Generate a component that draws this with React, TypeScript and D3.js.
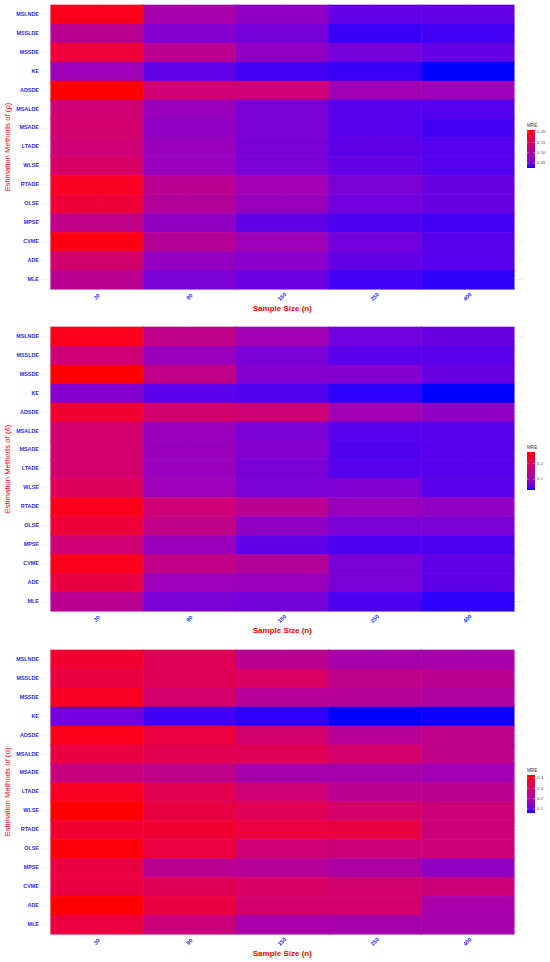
import * as d3 from 'd3';

const methods = ['MSLNDE', 'MSSLDE', 'MSSDE', 'KE', 'ADSDE', 'MSALDE', 'MSADE', 'LTADE', 'WLSE', 'RTADE', 'OLSE', 'MPSE', 'CVME', 'ADE', 'MLE'];
const sampleSizes = ['30', '90', '150', '250', '400'];

// MRE per method (rows) and sample size (columns)
const mreRho = [
  [0.201, 0.09, 0.072, 0.046, 0.046],
  [0.109, 0.063, 0.054, 0.032, 0.035],
  [0.182, 0.109, 0.072, 0.054, 0.046],
  [0.081, 0.044, 0.035, 0.032, 0.026],
  [0.21, 0.136, 0.133, 0.085, 0.081],
  [0.136, 0.078, 0.057, 0.041, 0.039],
  [0.14, 0.072, 0.057, 0.041, 0.035],
  [0.133, 0.078, 0.057, 0.043, 0.039],
  [0.146, 0.078, 0.057, 0.046, 0.039],
  [0.197, 0.109, 0.085, 0.057, 0.048],
  [0.182, 0.103, 0.078, 0.052, 0.048],
  [0.118, 0.072, 0.044, 0.037, 0.035],
  [0.204, 0.105, 0.081, 0.052, 0.041],
  [0.14, 0.074, 0.066, 0.046, 0.041],
  [0.109, 0.057, 0.05, 0.035, 0.03],
];

const mreDelta = [
  [0.263, 0.153, 0.109, 0.065, 0.06],
  [0.173, 0.099, 0.072, 0.053, 0.053],
  [0.275, 0.153, 0.08, 0.08, 0.06],
  [0.08, 0.053, 0.048, 0.036, 0.031],
  [0.243, 0.182, 0.173, 0.109, 0.092],
  [0.182, 0.099, 0.072, 0.051, 0.051],
  [0.182, 0.099, 0.08, 0.048, 0.051],
  [0.182, 0.099, 0.072, 0.051, 0.051],
  [0.202, 0.104, 0.072, 0.075, 0.053],
  [0.263, 0.173, 0.141, 0.099, 0.092],
  [0.238, 0.153, 0.092, 0.072, 0.072],
  [0.177, 0.099, 0.055, 0.046, 0.046],
  [0.263, 0.153, 0.133, 0.072, 0.055],
  [0.226, 0.104, 0.099, 0.072, 0.055],
  [0.141, 0.072, 0.068, 0.046, 0.036],
];

const mreAlpha = [
  [0.382, 0.326, 0.227, 0.19, 0.19],
  [0.356, 0.326, 0.308, 0.245, 0.227],
  [0.404, 0.289, 0.219, 0.219, 0.208],
  [0.112, 0.075, 0.067, 0.06, 0.061],
  [0.412, 0.363, 0.289, 0.219, 0.245],
  [0.356, 0.334, 0.326, 0.293, 0.245],
  [0.264, 0.245, 0.19, 0.19, 0.178],
  [0.404, 0.334, 0.275, 0.227, 0.227],
  [0.43, 0.356, 0.326, 0.297, 0.271],
  [0.382, 0.382, 0.363, 0.356, 0.271],
  [0.423, 0.363, 0.275, 0.271, 0.267],
  [0.356, 0.227, 0.219, 0.201, 0.153],
  [0.356, 0.326, 0.304, 0.289, 0.267],
  [0.43, 0.356, 0.289, 0.289, 0.193],
  [0.363, 0.267, 0.193, 0.19, 0.19],
];

const ticksRho = [0.05, 0.1, 0.15, 0.2];
const ticksDelta = [0.1, 0.2];
const ticksAlpha = [0.1, 0.2, 0.3, 0.4];

const FONT = '"Liberation Sans", Arial, sans-serif';
const LEFT = 50.7;
const RIGHT = 514;
const PLOT_H = 284;

interface HeatmapProps {
  id: string;
  top: number;
  values: number[][];
  symbol: string;
  legendTicks: number[];
  tickDigits: number;
}

function Heatmap({ id, top, values, symbol, legendTicks, tickDigits }: HeatmapProps) {
  const x = d3.scaleBand().domain(sampleSizes).range([LEFT, RIGHT]);
  const y = d3.scaleBand().domain(methods).range([top, top + PLOT_H]);
  const flat = values.flat();
  const [lo, hi] = d3.extent(flat) as [number, number];
  const color = d3.scaleLinear<string>().domain([lo, hi]).range(['blue', 'red']).interpolate(d3.interpolateLab);

  const padX = x.bandwidth() * 0.1;
  const padY = y.bandwidth() * 0.1;
  const bottom = top + PLOT_H;
  const midY = top + PLOT_H / 2;

  const barTop = midY + 2 - 19;
  const barH = 38;
  const barX = 527;
  const barW = 8;
  const ly = d3.scaleLinear().domain([lo, hi]).range([barTop + barH, barTop]);
  const stops = d3.range(0, 1.0001, 0.05);

  const cells = methods.flatMap((m, i) => sampleSizes.map((s, j) => ({ m, s, v: values[i][j] })));

  return (
    <g>
      <defs>
        <linearGradient id={`grad-${id}`} x1="0" y1="1" x2="0" y2="0">
          {stops.map((s) => (
            <stop key={s} offset={s} stopColor={color(lo + s * (hi - lo))} />
          ))}
        </linearGradient>
      </defs>
      {/* grid lines */}
      {methods.map((m) => (
        <line
          key={m}
          x1={LEFT - padX}
          x2={RIGHT + padX}
          y1={y(m)! + y.bandwidth() / 2}
          y2={y(m)! + y.bandwidth() / 2}
          stroke="#ebebeb"
          strokeWidth={0.6}
        />
      ))}
      {sampleSizes.map((s) => (
        <line
          key={s}
          x1={x(s)! + x.bandwidth() / 2}
          x2={x(s)! + x.bandwidth() / 2}
          y1={top - padY}
          y2={bottom + padY}
          stroke="#ebebeb"
          strokeWidth={0.6}
        />
      ))}
      {/* soft halo round the tiles, covered inside by the tiles */}
      {cells.map((c) => (
        <rect
          key={`h-${c.m}-${c.s}`}
          x={x(c.s)! - 0.8}
          y={y(c.m)! - 0.8}
          width={x.bandwidth() + 1.6}
          height={y.bandwidth() + 1.6}
          fill={color(c.v)}
          fillOpacity={0.4}
        />
      ))}
      {cells.map((c) => (
        <rect
          key={`${c.m}-${c.s}`}
          x={x(c.s)!}
          y={y(c.m)!}
          width={x.bandwidth() + 0.3}
          height={y.bandwidth() + 0.3}
          fill={color(c.v)}
        />
      ))}
      {/* y labels */}
      {methods.map((m) => (
        <text
          key={m}
          x={LEFT - padX - 2.5}
          y={y(m)! + y.bandwidth() / 2}
          textAnchor="end"
          dominantBaseline="middle"
          fontFamily={FONT}
          fontWeight="bold"
          fontSize={5.4}
          fill="#2b2bff"
        >
          {m}
        </text>
      ))}
      {/* x labels */}
      {sampleSizes.map((s) => {
        const cx = x(s)! + x.bandwidth() / 2;
        const cy = bottom + 8;
        return (
          <text
            key={s}
            transform={`translate(${cx},${cy}) rotate(-45)`}
            textAnchor="middle"
            dominantBaseline="middle"
            fontFamily={FONT}
            fontWeight="bold"
            fontSize={5.6}
            fill="#2b2bff"
          >
            {s}
          </text>
        );
      })}
      <text
        x={(LEFT + RIGHT) / 2}
        y={bottom + 22}
        textAnchor="middle"
        fontFamily={FONT}
        fontWeight="bold"
        fontSize={8}
        fill="red"
      >
        Sample Size (n)
      </text>
      <text
        transform={`translate(10,${midY}) rotate(-90)`}
        textAnchor="middle"
        fontFamily={FONT}
        fontSize={7.8}
        fill="red"
      >
        {`Estimation Methods of (${symbol})`}
      </text>
      {/* legend */}
      <text x={barX} y={barTop - 3} fontFamily={FONT} fontSize={4.6} fill="#333">
        MRE
      </text>
      <rect x={barX} y={barTop} width={barW} height={barH} fill={`url(#grad-${id})`} />
      {legendTicks.map((t) => (
        <g key={t}>
          <line x1={barX} x2={barX + 1.6} y1={ly(t)} y2={ly(t)} stroke="white" strokeWidth={0.5} />
          <line x1={barX + barW - 1.6} x2={barX + barW} y1={ly(t)} y2={ly(t)} stroke="white" strokeWidth={0.5} />
          <text
            x={barX + barW + 2}
            y={ly(t)}
            dominantBaseline="middle"
            fontFamily={FONT}
            fontSize={4.4}
            fill="#4d4d4d"
          >
            {t.toFixed(tickDigits)}
          </text>
        </g>
      ))}
    </g>
  );
}

export default function App() {
  return (
    <svg
      width={550}
      height={962}
      style={{ position: 'absolute', left: 0, top: 0, background: 'white' }}
    >
      <Heatmap id="rho" top={5} values={mreRho} symbol="ρ" legendTicks={ticksRho} tickDigits={2} />
      <Heatmap id="delta" top={327} values={mreDelta} symbol="δ" legendTicks={ticksDelta} tickDigits={1} />
      <Heatmap id="alpha" top={650} values={mreAlpha} symbol="α" legendTicks={ticksAlpha} tickDigits={1} />
    </svg>
  );
}
